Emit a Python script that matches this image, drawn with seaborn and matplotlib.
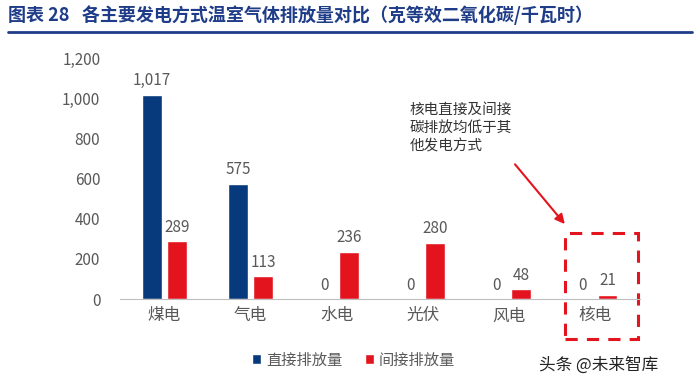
import pandas as pd
import numpy as np
import matplotlib.pyplot as plt
import seaborn as sns
from matplotlib.patches import Rectangle

categories = ['煤电', '气电', '水电', '光伏', '风电', '核电']
direct = [1017, 575, 0, 0, 0, 0]
indirect = [289, 113, 236, 280, 48, 21]
series = ['直接排放量', '间接排放量']

df = pd.DataFrame({
    'cat': categories * 2,
    'val': direct + indirect,
    'type': [series[0]] * 6 + [series[1]] * 6,
})

sns.set_style('white')
plt.rcParams['font.family'] = ['Noto Sans CJK SC', 'DejaVu Sans']

blue = '#063A7D'
red = '#E3141E'
gray = '#595959'

fig = plt.figure(figsize=(7, 3.9), dpi=100)
ax = fig.add_axes([0.171, 0.233, 0.743, 0.618])

sns.barplot(data=df, x='cat', y='val', hue='type', palette=[blue, red],
            width=0.58, gap=0.2, saturation=1, ax=ax, legend=True)

for c in ax.containers:
    ax.bar_label(c, labels=[f'{v:,.0f}' for v in c.datavalues], padding=4,
                 fontsize=11, color=gray)

ax.set_ylim(0, 1200)
ax.set_xlim(-0.52, 5.52)
ax.set_yticks(range(0, 1201, 200))
ax.set_yticklabels([f'{v:,}' for v in range(0, 1201, 200)], fontsize=11, color=gray)
ax.tick_params(axis='x', labelsize=12, labelcolor=gray, length=0, pad=6)
ax.tick_params(axis='y', length=0, pad=14)
ax.set_xlabel('')
ax.set_ylabel('')
for s in ['top', 'right', 'left']:
    ax.spines[s].set_visible(False)
ax.spines['bottom'].set_color('#BFBFBF')

ax.legend(loc='upper center', bbox_to_anchor=(0.45, -0.16), ncol=2, frameon=False,
          fontsize=11, handlelength=0.6, handleheight=0.6, handletextpad=0.3,
          columnspacing=1.5, labelcolor=gray)

# annotation for nuclear
ax.text(2.85, 975, '核电直接及间接\n碳排放均低于其\n他发电方式', fontsize=10.5,
        color='#333333', va='top', ha='left', linespacing=1.35)
ax.annotate('', xy=(4.67, 363), xytext=(4.05, 682),
            arrowprops=dict(arrowstyle='-|>', color=red, lw=1.5, mutation_scale=14))
ax.add_patch(Rectangle((4.65, -199), 0.85, 528, fill=False, edgecolor=red,
                       lw=2.2, ls=(0, (4, 3)), clip_on=False))

# title
fig.text(0.012, 0.962, '图表 28   各主要发电方式温室气体排放量对比（克等效二氧化碳/千瓦时）',
         fontsize=13, color='#1F3C88', fontweight='bold', va='center')
fig.add_artist(plt.Line2D([0.012, 0.988], [0.918, 0.918], color='#1F3C88', lw=2))

fig.text(0.77, 0.065, '头条 @未来智库', fontsize=12, color='#222222', va='center')

fig.savefig('out.png', dpi=100)
